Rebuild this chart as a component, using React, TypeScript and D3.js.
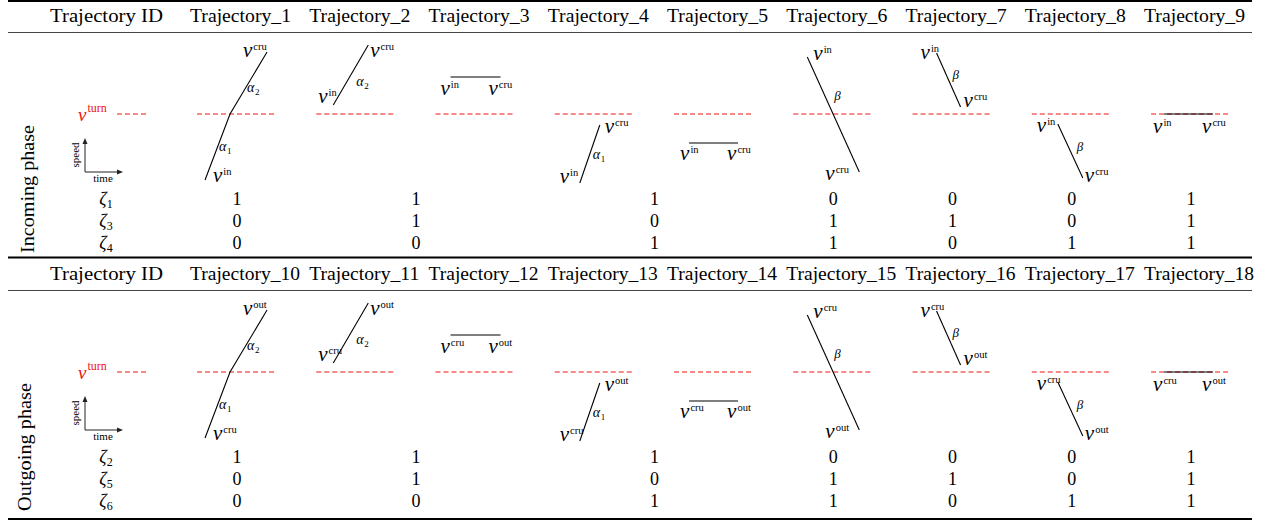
import React from "react";
import * as d3 from "d3";

// header labels
const incomingIds = [
  "Trajectory_1", "Trajectory_2", "Trajectory_3", "Trajectory_4", "Trajectory_5",
  "Trajectory_6", "Trajectory_7", "Trajectory_8", "Trajectory_9",
];
const outgoingIds = [
  "Trajectory_10", "Trajectory_11", "Trajectory_12", "Trajectory_13", "Trajectory_14",
  "Trajectory_15", "Trajectory_16", "Trajectory_17", "Trajectory_18",
];

// zeta indicator rows
const incomingZeta = ["1", "3", "4"];
const outgoingZeta = ["2", "5", "6"];
const incomingValues = [
  [1, 1, 1, 0, 0, 0, 1],
  [0, 1, 0, 1, 1, 0, 1],
  [0, 0, 1, 1, 0, 1, 1],
];
const outgoingValues = [
  [1, 1, 1, 0, 0, 0, 1],
  [0, 1, 0, 1, 1, 0, 1],
  [0, 0, 1, 1, 0, 1, 1],
];
// which trajectory columns each value spans (multicolumn cells)
const valueSpans = [[0, 0], [1, 2], [3, 4], [5, 5], [6, 6], [7, 7], [8, 8]];

// speed profile sketches, [time, speed]; turn speed = 7
const turnSpeed = 7;
const sketchPaths = [
  [[0.8, 0.4], [3.3, 7.0], [7.0, 13.2]],
  [[1.7, 7.9], [5.2, 13.9]],
  [[1.5, 10.7], [6.5, 10.7]],
  [[2.5, 0.1], [4.5, 5.9]],
  [[1.5, 4.1], [6.4, 4.1]],
  [[1.4, 12.7], [6.6, 1.2]],
  [[2.4, 13.1], [4.8, 7.7]],
  [[2.6, 6.0], [5.1, 0.6]],
  [[1.3, 7.0], [6.2, 7.0]],
];
// sketch annotations: [kind, time, speed]
const sketchLabels = [
  [["start", 1.6, 0.2], ["a1", 2.2, 3.3], ["a2", 5.0, 9.2], ["end", 4.6, 12.7]],
  [["start", 0.2, 8.1], ["a2", 4.0, 9.8], ["end", 5.4, 12.7]],
  [["start", 0.5, 8.9], ["end", 5.3, 8.9]],
  [["start", 0.5, 0.1], ["a1", 3.8, 2.5], ["end", 5.0, 5.1]],
  [["start", 0.6, 2.4], ["end", 5.3, 2.4]],
  [["start", 2.0, 12.4], ["b", 4.1, 8.4], ["end", 3.2, 0.4]],
  [["start", 0.8, 12.5], ["b", 4.0, 10.5], ["end", 5.1, 7.7]],
  [["start", 0.5, 5.2], ["b", 4.5, 3.3], ["end", 5.3, 0.2]],
  [["start", 0.2, 5.1], ["end", 5.1, 5.1]],
];

const FONT = "'Liberation Serif', 'Times New Roman', serif";
const RED = "#f01414";

const col = d3.scaleBand<number>().domain(d3.range(9)).range([177.4, 1250.7]);
const bw = col.bandwidth();
const cx = (i: number) => (col(i) as number) + bw / 2;

function VLabel({ x, y, sup }: { x: number; y: number; sup: string }) {
  return (
    <text x={x} y={y} fontFamily={FONT}>
      <tspan fontStyle="italic" fontSize={21}>v</tspan>
      <tspan fontSize={10.5} dx={1} dy={-7}>{sup}</tspan>
    </text>
  );
}

function Table({ top, ids, zeta, values, startSup, endSup, phase, phaseX }: any) {
  const turnY = top + 114;
  const speed = d3.scaleLinear().domain([0, 14]).range([turnY + 70, turnY - 70]);
  const line = d3.line();
  const rowY = [top + 205, top + 227, top + 249];

  return (
    <g>
      {/* header */}
      <text x={50} y={top + 22} fontFamily={FONT} fontSize={18} textLength={113} lengthAdjust="spacingAndGlyphs">
        Trajectory ID
      </text>
      {ids.map((id: string, i: number) => (
        <text key={id} x={(col(i) as number) + 12.6} y={top + 22} fontFamily={FONT} fontSize={18}
          textLength={id.length > 12 ? 110 : 101} lengthAdjust="spacingAndGlyphs">
          {id}
        </text>
      ))}

      {/* phase label */}
      <text transform={`translate(${phaseX},${top + 189}) rotate(-90)`} textAnchor="middle"
        fontFamily={FONT} fontSize={18} textLength={128} lengthAdjust="spacingAndGlyphs">
        {phase}
      </text>

      {/* turn speed legend */}
      <text x={78} y={turnY + 7} fontFamily={FONT} fill={RED}>
        <tspan fontStyle="italic" fontSize={19}>v</tspan>
        <tspan fontSize={12} dx={1} dy={-9}>turn</tspan>
      </text>
      <line x1={117} x2={147} y1={turnY} y2={turnY} stroke={RED} strokeWidth={1.1} strokeDasharray="5,3" />

      {/* small axes legend */}
      <g stroke="#222" strokeWidth={1}>
        <line x1={85} x2={85} y1={turnY + 58} y2={turnY + 27} />
        <line x1={85} x2={120} y1={turnY + 58} y2={turnY + 58} />
      </g>
      <path d={`M85,${turnY + 24}L82.5,${turnY + 30}L87.5,${turnY + 30}Z`} fill="#222" />
      <path d={`M123,${turnY + 58}L117,${turnY + 55.5}L117,${turnY + 60.5}Z`} fill="#222" />
      <text transform={`translate(79,${turnY + 41}) rotate(-90)`} textAnchor="middle" fontFamily={FONT} fontSize={11}>
        speed
      </text>
      <text x={103} y={turnY + 68} textAnchor="middle" fontFamily={FONT} fontSize={11}>time</text>

      {/* sketches */}
      {sketchPaths.map((pts, i) => {
        const c = cx(i);
        const time = d3.scaleLinear().domain([0, 8]).range([c - 40, c + 40]);
        const xy = pts.map(([t, s]) => [time(t), speed(s)] as [number, number]);
        return (
          <g key={i}>
            <line x1={time(0)} x2={time(8)} y1={speed(turnSpeed)} y2={speed(turnSpeed)}
              stroke={RED} strokeWidth={1.1} strokeDasharray="5,3" />
            <path d={line(xy) || ""} fill="none" stroke="#000" strokeWidth={1.1} />
            {sketchLabels[i].map(([kind, t, s]: any, j: number) => {
              const lx = time(t);
              const ly = speed(s);
              if (kind === "start" || kind === "end")
                return <VLabel key={j} x={lx} y={ly} sup={kind === "start" ? startSup : endSup} />;
              if (kind === "b")
                return (
                  <text key={j} x={lx} y={ly} fontFamily={FONT} fontSize={13} fontStyle="italic">β</text>
                );
              return (
                <text key={j} x={lx} y={ly} fontFamily={FONT}>
                  <tspan fontStyle="italic" fontSize={14}>α</tspan>
                  <tspan fontSize={9} dx={0.5} dy={3}>{kind === "a1" ? "1" : "2"}</tspan>
                </text>
              );
            })}
          </g>
        );
      })}

      {/* zeta rows */}
      {zeta.map((z: string, r: number) => (
        <g key={z}>
          <text x={106} y={rowY[r]} textAnchor="middle" fontFamily={FONT}>
            <tspan fontStyle="italic" fontSize={18}>ζ</tspan>
            <tspan fontSize={12} dy={3}>{z}</tspan>
          </text>
          {values[r].map((v: number, k: number) => {
            const [a, b] = valueSpans[k];
            const mx = ((col(a) as number) + (col(b) as number) + bw) / 2;
            return (
              <text key={k} x={mx} y={rowY[r]} textAnchor="middle" fontFamily={FONT} fontSize={18}>
                {v}
              </text>
            );
          })}
        </g>
      ))}
    </g>
  );
}

export default function App() {
  return (
    <svg width={1276} height={520} style={{ position: "absolute", left: 0, top: 0, background: "#fff" }}>
      <rect width={1276} height={520} fill="#fff" />
      <g stroke="#000">
        <line x1={8} x2={1252} y1={1} y2={1} strokeWidth={2} />
        <line x1={8} x2={1252} y1={32.5} y2={32.5} strokeWidth={1} stroke="#444" />
        <line x1={8} x2={1252} y1={257.5} y2={257.5} strokeWidth={2} />
        <line x1={8} x2={1252} y1={290.5} y2={290.5} strokeWidth={1} stroke="#444" />
        <line x1={8} x2={1252} y1={519} y2={519} strokeWidth={2} />
      </g>
      <Table top={0} ids={incomingIds} zeta={incomingZeta} values={incomingValues}
        startSup="in" endSup="cru" phase="Incoming phase" phaseX={34} />
      <Table top={258} ids={outgoingIds} zeta={outgoingZeta} values={outgoingValues}
        startSup="cru" endSup="out" phase="Outgoing phase" phaseX={31} />
    </svg>
  );
}
